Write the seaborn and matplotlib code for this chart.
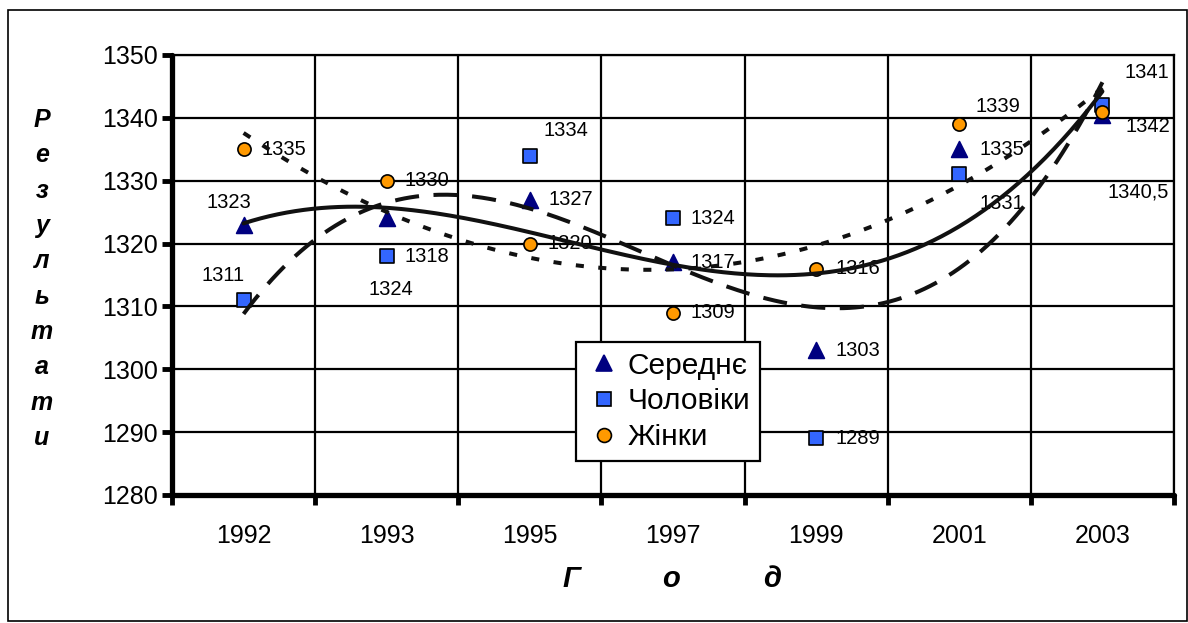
import numpy as np
import pandas as pd
import matplotlib
matplotlib.use("Agg")
import matplotlib.pyplot as plt
import seaborn as sns
from matplotlib.patches import Rectangle
from matplotlib.lines import Line2D

# ---- data ----
years = ["1992", "1993", "1995", "1997", "1999", "2001", "2003"]
avg_vals = [1323, 1324, 1327, 1317, 1303, 1335, 1340.5]
men_vals = [1311, 1318, 1334, 1324, 1289, 1331, 1342]
women_vals = [1335, 1330, 1320, 1309, 1316, 1339, 1341]
series_names = ["Середнє", "Чоловіки", "Жінки"]
y_ticks = [1280, 1290, 1300, 1310, 1320, 1330, 1340, 1350]
ylabel_text = "Результати"
xlabel_letters = ["Г", "о", "д"]

# ---- style ----
sns.set_theme(style="white")
plt.rcParams["font.family"] = ["Liberation Sans", "DejaVu Sans"]
plt.rcParams["text.color"] = "black"
plt.rcParams["axes.labelcolor"] = "black"
plt.rcParams["xtick.color"] = "black"
plt.rcParams["ytick.color"] = "black"

W, H = 1188, 623
fig = plt.figure(figsize=(W / 100, H / 100), dpi=100)
ax = fig.add_axes([172 / W, 1 - 495 / H, (1174 - 172) / W, (495 - 55) / H])

x_idx = np.arange(len(years))
colors = {"Середнє": "#000080", "Чоловіки": "#3366FF", "Жінки": "#FF9900"}
markers = {"Середнє": "^", "Чоловіки": "s", "Жінки": "o"}
sizes = {"Середнє": 130, "Чоловіки": 95, "Жінки": 90}
edges = {"Середнє": "#000080", "Чоловіки": "black", "Жінки": "black"}
vals = {"Середнє": avg_vals, "Чоловіки": men_vals, "Жінки": women_vals}

for name in series_names:
    df = pd.DataFrame({"x": x_idx, "y": vals[name]})
    sns.scatterplot(data=df, x="x", y="y", ax=ax, marker=markers[name], s=sizes[name],
                    color=colors[name], edgecolor=edges[name], linewidth=1.2,
                    zorder=3, legend=False)

# polynomial (order 3) trend lines, computed from the data
line_styles = {
    "Середнє": dict(linestyle="-"),
    "Чоловіки": dict(dashes=(6.0, 3.6)),
    "Жінки": dict(dashes=(2.0, 3.6)),
}
xs = np.linspace(0, len(years) - 1, 300)
for name in series_names:
    coef = np.polyfit(x_idx, vals[name], 3)
    tdf = pd.DataFrame({"x": xs, "y": np.polyval(coef, xs)})
    sns.lineplot(data=tdf, x="x", y="y", ax=ax, color="#111111", lw=2.9,
                 zorder=5, **line_styles[name])

# data labels (offsets in pixels: dx, dy upward)
offsets = {
    "Середнє": [(-37, 22), (-18, -71), (19, 0), (18, 0), (19, 0), (20, 0), (5, -77)],
    "Чоловіки": [(-42, 25), (18, 0), (14, 25), (18, 0), (19, 0), (20, -29), (23, -21)],
    "Жінки": [(18, 0), (18, 0), (18, 0), (18, 0), (19, 0), (16, 18), (22, 39)],
}


def fmt(v):
    return str(int(v)) if float(v).is_integer() else str(v).replace(".", ",")


for name in series_names:
    for i, v in enumerate(vals[name]):
        dx, dy = offsets[name][i]
        ax.annotate(fmt(v), (i, v), xytext=(dx, dy), textcoords="offset pixels",
                    ha="left", va="center", fontsize=14.5, color="black", zorder=4)

# axes styling
ax.set_xlim(-0.5, len(years) - 0.5)
ax.set_ylim(y_ticks[0], y_ticks[-1])
ax.set_xticks(x_idx)
ax.set_xticklabels(years)
ax.set_xticks(np.arange(-0.5, len(years), 1.0), minor=True)
ax.set_yticks(y_ticks)
ax.set_yticklabels([str(t) for t in y_ticks])
ax.tick_params(axis="x", which="major", length=0, pad=21, labelsize=18, labelcolor="black")
ax.tick_params(axis="x", which="minor", length=7, width=3.5, color="black", direction="out", bottom=True)
ax.tick_params(axis="y", which="major", length=7, width=3.5, color="black", direction="out",
               pad=3, labelsize=18, left=True, labelcolor="black")
ax.set_xlabel("")
ax.set_ylabel("")
ax.grid(False)
ax.grid(which="minor", axis="x", color="black", lw=1.6)
ax.grid(which="major", axis="y", color="black", lw=1.6)
ax.set_axisbelow(True)
for sp in ["top", "right"]:
    ax.spines[sp].set_color("black")
    ax.spines[sp].set_linewidth(1.6)
for sp in ["left", "bottom"]:
    ax.spines[sp].set_color("black")
    ax.spines[sp].set_linewidth(3.8)
    ax.spines[sp].set_capstyle("round")

# legend
handles = [Line2D([], [], linestyle="none", marker=markers[n], markersize=11.5 if n == "Середнє" else 10,
                  markerfacecolor=colors[n], markeredgecolor=edges[n], markeredgewidth=1.2)
           for n in series_names]
leg = ax.legend(handles, series_names, loc="upper left",
                bbox_to_anchor=(576 / W, 1 - 342 / H), bbox_transform=fig.transFigure,
                frameon=True, fancybox=False, framealpha=1, edgecolor="black",
                fontsize=21.5, handlelength=1.25, handletextpad=0.15, borderpad=0.32,
                labelspacing=0.26, borderaxespad=0)
leg.get_frame().set_linewidth(1.6)
for t in leg.get_texts():
    t.set_color("black")
leg.set_zorder(10)

# axis titles
fig.text(42 / W, 1 - 279 / H, "\n".join(ylabel_text), ha="center", va="center",
         fontsize=18, fontweight="bold", fontstyle="italic", linespacing=1.6, color="black")
for letter, px in zip(xlabel_letters, [571, 671, 772]):
    fig.text(px / W, 1 - 579 / H, letter, ha="center", va="center",
             fontsize=21, fontweight="bold", fontstyle="italic", color="black")

# outer frame
fig.patches.append(Rectangle((8 / W, 1 - 621 / H), (1187 - 8) / W, (621 - 10) / H,
                             transform=fig.transFigure, fill=False, edgecolor="black", lw=1.2))

fig.savefig("out.png", dpi=100)
